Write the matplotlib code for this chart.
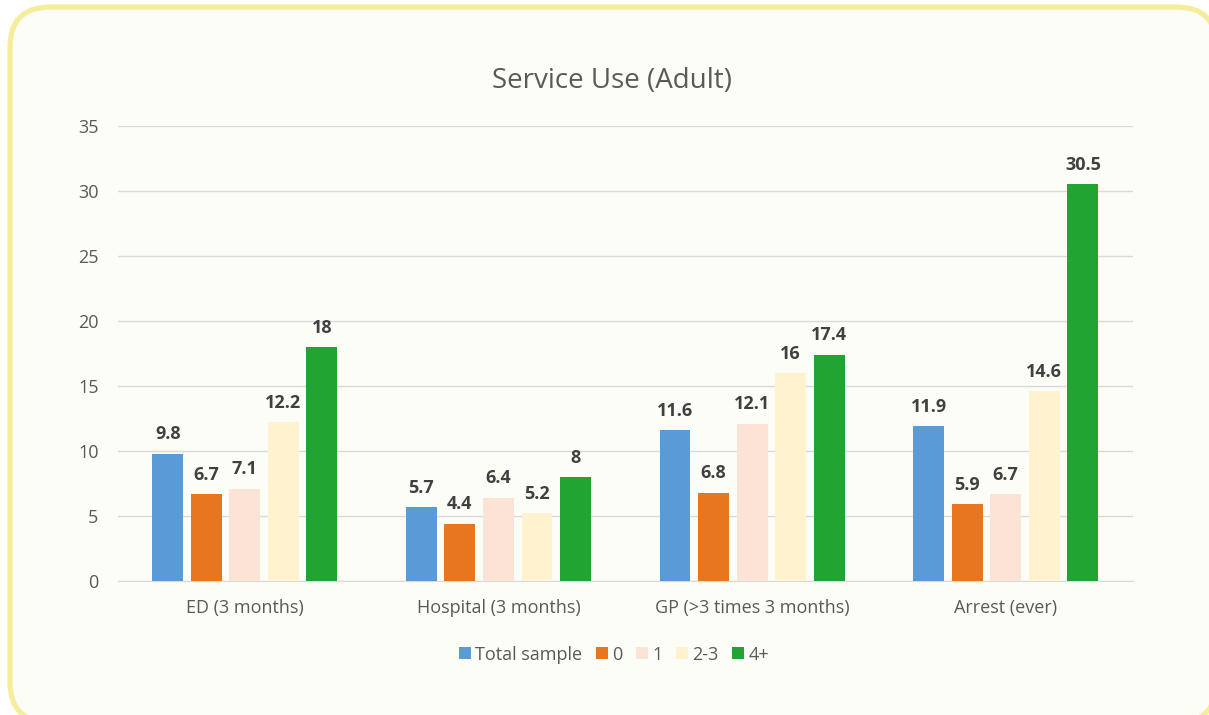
import matplotlib.pyplot as plt
import numpy as np
from matplotlib.patches import FancyBboxPatch

plt.rcParams['font.family'] = ['Open Sans', 'DejaVu Sans']

categories = ['ED (3 months)', 'Hospital (3 months)', 'GP (>3 times 3 months)', 'Arrest (ever)']
series = ['Total sample', '0', '1', '2-3', '4+']
total = [9.8, 5.7, 11.6, 11.9]
zero = [6.7, 4.4, 6.8, 5.9]
one = [7.1, 6.4, 12.1, 6.7]
two_three = [12.2, 5.2, 16, 14.6]
four_plus = [18, 8, 17.4, 30.5]
values = [total, zero, one, two_three, four_plus]
colors = ['#5B9BD5', '#E8761E', '#FBE3D5', '#FFF3CF', '#22A432']

fig = plt.figure(figsize=(12.09, 7.15), dpi=100)
bg = '#FDFDF8'
fig.patch.set_facecolor('white')

# rounded frame, runs off the right and bottom edges, kept behind the axes
frame = FancyBboxPatch((0.0083, -0.010), 0.998, 1.0, boxstyle='round,pad=0,rounding_size=0.033',
                       transform=fig.transFigure, facecolor=bg, edgecolor='#F4EE9C', linewidth=3.8,
                       mutation_aspect=1209/715, zorder=-5)
fig.patches.append(frame)

ax = fig.add_axes([0.0976, 0.1874, 0.8392, 0.6364])
ax.set_facecolor('none')

x = np.arange(len(categories))
pitch = 0.152
width = 0.122
for i, (s, v, c) in enumerate(zip(series, values, colors)):
    pos = x + (i - 2) * pitch
    ax.bar(pos, v, width, color=c, label=s, zorder=3)
    for xp, val in zip(pos, v):
        ax.text(xp, val + 0.8, '%g' % val, ha='center', va='bottom', fontsize=13,
                fontweight='bold', color='#404040')

ax.set_xlim(-0.5, 3.5)
ax.set_ylim(0, 35)
ax.set_yticks(range(0, 36, 5))
ax.set_xticks(x)
ax.set_xticklabels(categories)
ax.grid(axis='y', color='#D9D9D9', linewidth=1, zorder=0)
for sp in ax.spines.values():
    sp.set_visible(False)
ax.spines['bottom'].set_visible(True)
ax.spines['bottom'].set_color('#D9D9D9')
ax.tick_params(axis='both', length=0, labelsize=13, labelcolor='#595959')
ax.tick_params(axis='y', pad=14)
ax.tick_params(axis='x', pad=13)

fig.text(0.506, 0.887, 'Service Use (Adult)', ha='center', va='center', fontsize=20, color='#595959')

leg = ax.legend(loc='center', bbox_to_anchor=(0.489, -0.162), ncol=5, frameon=False, fontsize=13,
                handlelength=0.65, handleheight=0.65, handletextpad=0.25, columnspacing=0.75)
for t in leg.get_texts():
    t.set_color('#595959')

fig.savefig('out.png', dpi=100, facecolor=fig.get_facecolor())
